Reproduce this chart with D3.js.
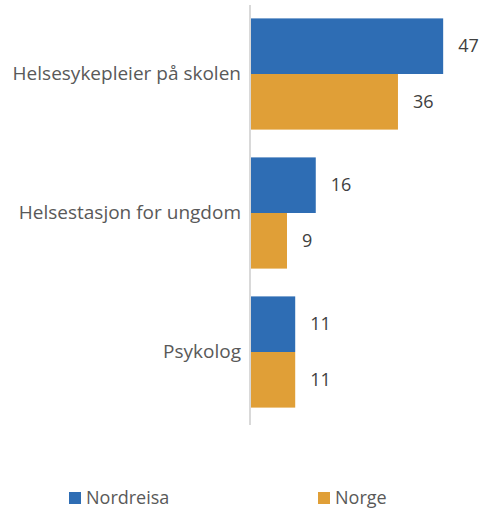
<!DOCTYPE html>
<html><head><meta charset="utf-8">
<script src="https://cdn.jsdelivr.net/npm/d3@7"></script>
<style>body{margin:0;background:#fff}svg{display:block}text{font-family:"Open Sans",sans-serif}</style>
</head><body>
<script>
const categories = ["Helsesykepleier på skolen", "Helsestasjon for ungdom", "Psykolog"];
const seriesNames = ["Nordreisa", "Norge"];
const nordreisa = [47, 16, 11];
const norge = [36, 9, 11];
const colors = ["#2E6DB4", "#E09F37"];

const W = 481, H = 511;
const svg = d3.select("body").append("svg").attr("width", W).attr("height", H);
const x0 = 250;
const x = d3.scaleLinear().domain([0, 50]).range([x0, x0 + 205.5]);
const y = d3.scaleBand().domain(categories).range([4.5, 421.5]).paddingInner(0.2).paddingOuter(0.1);
const y1 = d3.scaleBand().domain(seriesNames).range([0, y.bandwidth()]);
const data = categories.map((c, i) => ({c, vals: [nordreisa[i], norge[i]]}));

const g = svg.selectAll("g.cat").data(data).join("g").attr("transform", d => `translate(0,${y(d.c)})`);
g.selectAll("rect").data(d => d.vals.map((v, j) => ({v, s: seriesNames[j], j})))
  .join("rect")
  .attr("x", x(0)).attr("y", d => y1(d.s))
  .attr("width", d => x(d.v) - x(0)).attr("height", y1.bandwidth())
  .attr("fill", d => colors[d.j]);
g.selectAll("text.val").data(d => d.vals.map((v, j) => ({v, s: seriesNames[j]})))
  .join("text").attr("class", "val")
  .attr("x", d => x(d.v) + 15).attr("y", d => y1(d.s) + y1.bandwidth() / 2)
  .attr("dy", "0.35em").attr("font-size", 18).attr("fill", "#404040").text(d => d.v);

// axis
svg.append("g").attr("transform", `translate(${x0},0)`)
  .call(d3.axisLeft(y).tickSize(0).tickPadding(9))
  .call(a => a.select(".domain").attr("stroke", "#d9d9d9").attr("stroke-width", 2).attr("d", "M0,5V425"))
  .call(a => a.selectAll("text").attr("font-size", 19).attr("fill", "#595959").attr("font-family", '"Open Sans",sans-serif'));

// legend
const legX = [69, 318];
const leg = svg.selectAll("g.leg").data(seriesNames).join("g").attr("transform", (d, i) => `translate(${legX[i]},492)`);
leg.append("rect").attr("width", 12).attr("height", 12).attr("fill", (d, i) => colors[i]);
leg.append("text").attr("x", 17).attr("y", 6).attr("dy", "0.35em").attr("font-size", 18).attr("fill", "#595959").text(d => d);
</script>
</body></html>
